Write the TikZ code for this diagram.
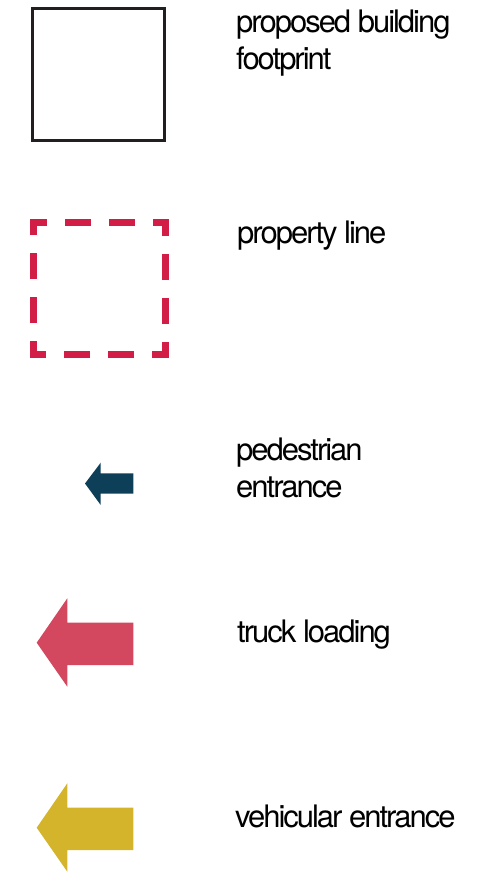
\documentclass[tikz,border=0pt]{standalone}
\usepackage{fontspec}
\setmainfont{TeX Gyre Heros}[LetterSpace=-6.5]
\definecolor{boxblack}{HTML}{231F20}
\definecolor{propred}{HTML}{D21E46}
\definecolor{pedteal}{HTML}{0D3F58}
\definecolor{truckred}{HTML}{D3475F}
\definecolor{vehgold}{HTML}{D4B42B}
\begin{document}
\begin{tikzpicture}[x=1pt,y=-1pt,
  legendtext/.style={anchor=base west,inner sep=0pt,align=left,
    font=\fontsize{31}{37}\selectfont,text=black}]
\useasboundingbox (0,0) rectangle (484,872);
% proposed building footprint
\draw[boxblack,line width=3pt] (32.5,9) rectangle (164,140);
\node[legendtext] (t1) at (236,70) {proposed building\\footprint};
% property line
\draw[propred,line width=7pt,dash pattern=on 26pt off 18pt,dash phase=34.5pt,line join=miter]
  (99.5,222.5) -- (165.5,222.5) -- (165.5,354.5) -- (33.5,354.5) -- (33.5,222.5) -- cycle;
\node[legendtext] (t2) at (237,243) {property line};
% pedestrian entrance
\fill[pedteal] (85,483.5) -- (100.7,462.7) -- (100.7,473.3) -- (133.3,473.3)
  -- (133.3,493.5) -- (100.7,493.5) -- (100.7,505) -- cycle;
\node[legendtext] (t3) at (236,497) {pedestrian\\entrance};
% truck loading
\fill[truckred] (36.7,642.7) -- (67.3,598.3) -- (67.3,622.7) -- (133.3,622.7)
  -- (133.3,665) -- (67.3,665) -- (67.3,686.7) -- cycle;
\node[legendtext] (t4) at (237,642) {truck loading};
% vehicular entrance
\fill[vehgold] (36.7,827.7) -- (67.3,783.3) -- (67.3,807.7) -- (133.3,807.7)
  -- (133.3,850) -- (67.3,850) -- (67.3,871.7) -- cycle;
\node[legendtext] (t5) at (235,827) {vehicular entrance};
\end{tikzpicture}
\end{document}
